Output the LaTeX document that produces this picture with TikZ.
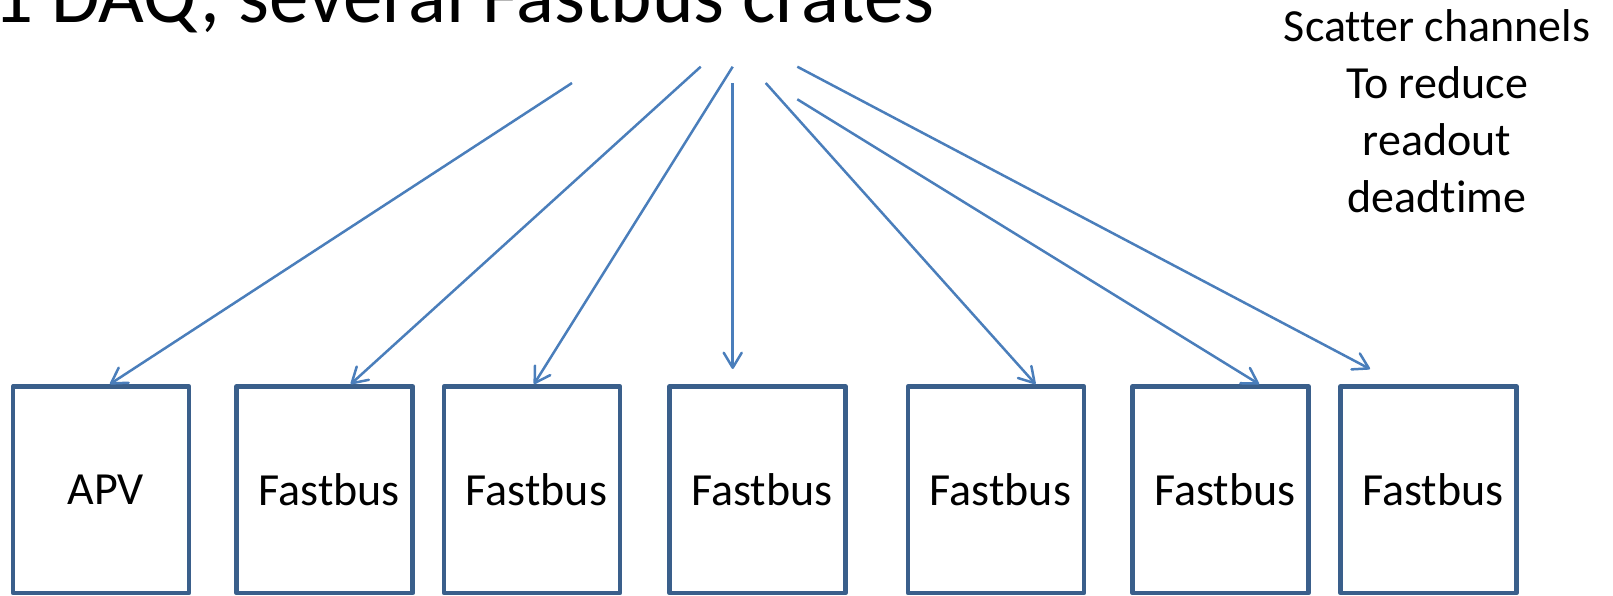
\documentclass[tikz,border=0pt]{standalone}
\usepackage{fontspec}
\setmainfont{Carlito}[Ligatures=NoCommon]
\usetikzlibrary{arrows.meta}
\definecolor{boxblue}{HTML}{3A5F8B}
\definecolor{arrowblue}{HTML}{4A7EBB}
\begin{document}
\begin{tikzpicture}[x=1pt,y=-1pt,
  crate/.style={draw=boxblue,line width=4.8pt,line join=round,minimum width=176pt,
    minimum height=206.5pt,inner sep=0pt,font=\fontsize{46}{56}\selectfont,
    execute at begin node={\hspace*{9pt}}},
  feed/.style={draw=arrowblue,line width=2.5pt,
    -{Straight Barb[length=15pt,width=18pt,line join=round,line cap=round]}},
  ]
\useasboundingbox (0,0) rectangle (1613,596);
\node[anchor=base west,inner sep=0pt,font=\fontsize{79}{95}\selectfont] (title) at (-7,23) {1 DAQ, several Fastbus crates};
\node[align=center,anchor=base,inner sep=0pt,font=\fontsize{46}{56.7}\selectfont] (note) at (1437,212) {Scatter channels\\To reduce\\readout\\deadtime};

\node[crate] (b1) at (101,489.75) {APV};
\node[crate] (b2) at (324.75,489.75) {Fastbus};
\node[crate] (b3) at (532,489.75) {Fastbus};
\node[crate] (b4) at (757.5,489.75) {Fastbus};
\node[crate] (b5) at (996,489.75) {Fastbus};
\node[crate] (b6) at (1220.5,489.75) {Fastbus};
\node[crate] (b7) at (1428.5,489.75) {Fastbus};

\coordinate (s1) at (572,83);
\coordinate (s2) at (700.7,66.7);
\coordinate (s3) at (732.7,66.7);
\coordinate (s4) at (732.7,83.3);
\coordinate (s5) at (765.7,83);
\coordinate (s6) at (797.3,99.3);
\coordinate (s7) at (797.3,66.7);
\coordinate (e4) at (732.7,369);
\coordinate (e7) at (1370,369);

\draw[feed] (s1) -- ([xshift=99.4pt]b1.north west);
\draw[feed] (s2) -- ([xshift=116.4pt]b2.north west);
\draw[feed] (s3) -- ([xshift=92.4pt]b3.north west);
\draw[feed] (s4) -- (e4);
\draw[feed] (s5) -- ([xshift=129.9pt]b5.north west);
\draw[feed] (s6) -- ([xshift=128.9pt]b6.north west);
\draw[feed] (s7) -- (e7);
\end{tikzpicture}
\end{document}
